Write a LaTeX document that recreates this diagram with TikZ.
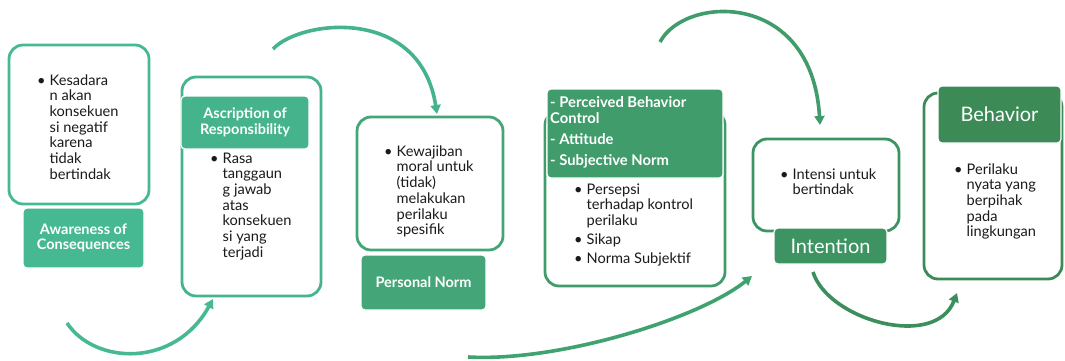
\documentclass[tikz,border=0pt]{standalone}
\usepackage{fontspec}
\setmainfont{Lato}
\usepackage{tikz}
\usetikzlibrary{arrows.meta}
\definecolor{tealA}{HTML}{46B993}
\definecolor{tealB}{HTML}{45B48D}
\definecolor{greenC}{HTML}{44A678}
\definecolor{greenD}{HTML}{409C6B}
\definecolor{greenE}{HTML}{3E9362}
\definecolor{greenF}{HTML}{3C8B57}
\definecolor{flowC}{HTML}{3FA26F}
\definecolor{flowE}{HTML}{3D8E5D}
\definecolor{figtext}{HTML}{1A1A1A}
\newcommand{\bitem}[1]{\makebox[12.5pt][l]{\textbullet}\begin{tabular}[t]{@{}l@{}}#1\end{tabular}}
\tikzset{
  outbox/.style={draw=#1, line width=2.8pt, rounded corners=14pt, fill=white, inner sep=0pt},
  tagbox/.style={draw=white, line width=1.2pt, fill=#1, rounded corners=4pt, inner sep=0pt, align=center, text=white, font=\bfseries\fontsize{14.5}{15.5}\selectfont},
  bigtag/.style={tagbox=#1, font=\fontsize{20}{22}\selectfont},
  tagtext/.style={anchor=base west, inner sep=0pt, text=white, font=\bfseries\fontsize{14.8}{16}\selectfont},
  bullettext/.style={anchor=base west, inner sep=0pt, text=figtext, font=\fontsize{14.6}{15.7}\selectfont},
  flow/.style={-{Triangle[length=9pt,width=10pt]}, line width=3.6pt, draw=#1}
}
\begin{document}
\begin{tikzpicture}[x=1pt,y=-1pt]
  \useasboundingbox (0,0) rectangle (1065,361);

  % awareness of consequences
  \node[outbox=tealA, minimum width=140pt, minimum height=159pt] (aware) at (79,124.5) {};
  \node[tagbox=tealA, minimum width=121pt, minimum height=60pt] (awaretag) at (83.5,238) {Awareness of\\Consequences};
  \node[bullettext] (awaretxt) at (37,85) {\bitem{Kesadara\\n akan\\konsekuen\\si negatif\\karena\\tidak\\bertindak}};

  % ascription of responsibility
  \node[outbox=tealB, minimum width=139pt, minimum height=219pt] (ascr) at (251.5,186.5) {};
  \node[tagbox=tealB, minimum width=128pt, minimum height=53pt] (ascrtag) at (245,122.5) {Ascription of\\Responsibility};
  \node[bullettext] (ascrtxt) at (210,163) {\bitem{Rasa\\tanggaun\\g jawab\\atas\\konsekuen\\si yang\\terjadi}};

  % personal norm
  \node[outbox=greenC, minimum width=146pt, minimum height=133pt] (pnorm) at (430,183.5) {};
  \node[tagbox=greenC, minimum width=125pt, minimum height=55pt] (pnormtag) at (423.5,282.5) {Personal Norm};
  \node[bullettext] (pnormtxt) at (384,156) {\bitem{Kewajiban\\moral untuk\\(tidak)\\melakukan\\perilaku\\spesifik}};

  % tpb factors
  \node[outbox=greenD, minimum width=180pt, minimum height=175pt] (tpb) at (635,198.5) {};
  \node[tagbox=greenD, minimum width=176pt, minimum height=89pt] (tpbtag) at (635,133.5) {};
  \node[tagtext] (tpbhead) at (550,107) {\begin{tabular}[t]{@{}l@{}}- Perceived Behavior\\Control\\[5pt]- Attitude\\[5pt]- Subjective Norm\end{tabular}};
  \node[bullettext] (tpbtxta) at (574,194) {\bitem{Persepsi\\terhadap kontrol\\perilaku}};
  \node[bullettext] (tpbtxtb) at (574,244) {\bitem{Sikap}};
  \node[bullettext] (tpbtxtc) at (574,263) {\bitem{Norma Subjektif}};

  % intention
  \node[outbox=greenE, minimum width=146pt, minimum height=92pt] (intent) at (826,185) {};
  \node[bigtag=greenE, minimum width=113pt, minimum height=36pt] (intenttag) at (830.5,246) {Intention};
  \node[bullettext] (intenttxt) at (780,179) {\bitem{Intensi untuk\\bertindak}};

  % behavior
  \node[outbox=greenF, minimum width=138pt, minimum height=186pt] (behav) at (993,186) {};
  \node[bigtag=greenF, minimum width=123pt, minimum height=57pt] (behavtag) at (999.5,114.5) {Behavior};
  \node[bullettext] (behavtxt) at (954,174) {\bitem{Perilaku\\nyata yang\\berpihak\\pada\\lingkungan}};

  % curved arrows
  \coordinate (a1s) at (67,323);
  \coordinate (a1e) at (213,299);
  \coordinate (a2s) at (273,49);
  \coordinate (a2e) at (437,114);
  \coordinate (a3s) at (468,357);
  \coordinate (a3e) at (752,276);
  \coordinate (a4s) at (660,42);
  \coordinate (a4e) at (820,125);
  \coordinate (a5s) at (813,272);
  \coordinate (a5e) at (957,293);
  \draw[flow=tealA] (a1s) .. controls (95,365) and (175,368) .. (a1e);
  \draw[flow=tealB] (a2s) .. controls (300,20) and (420,5) .. (a2e);
  \draw[flow=flowC] (a3s) .. controls (560,362) and (700,318) .. (a3e);
  \draw[flow=greenD] (a4s) .. controls (685,-5) and (812,-10) .. (a4e);
  \draw[flow=flowE] (a5s) .. controls (828,320) and (935,350) .. (a5e);
\end{tikzpicture}
\end{document}
